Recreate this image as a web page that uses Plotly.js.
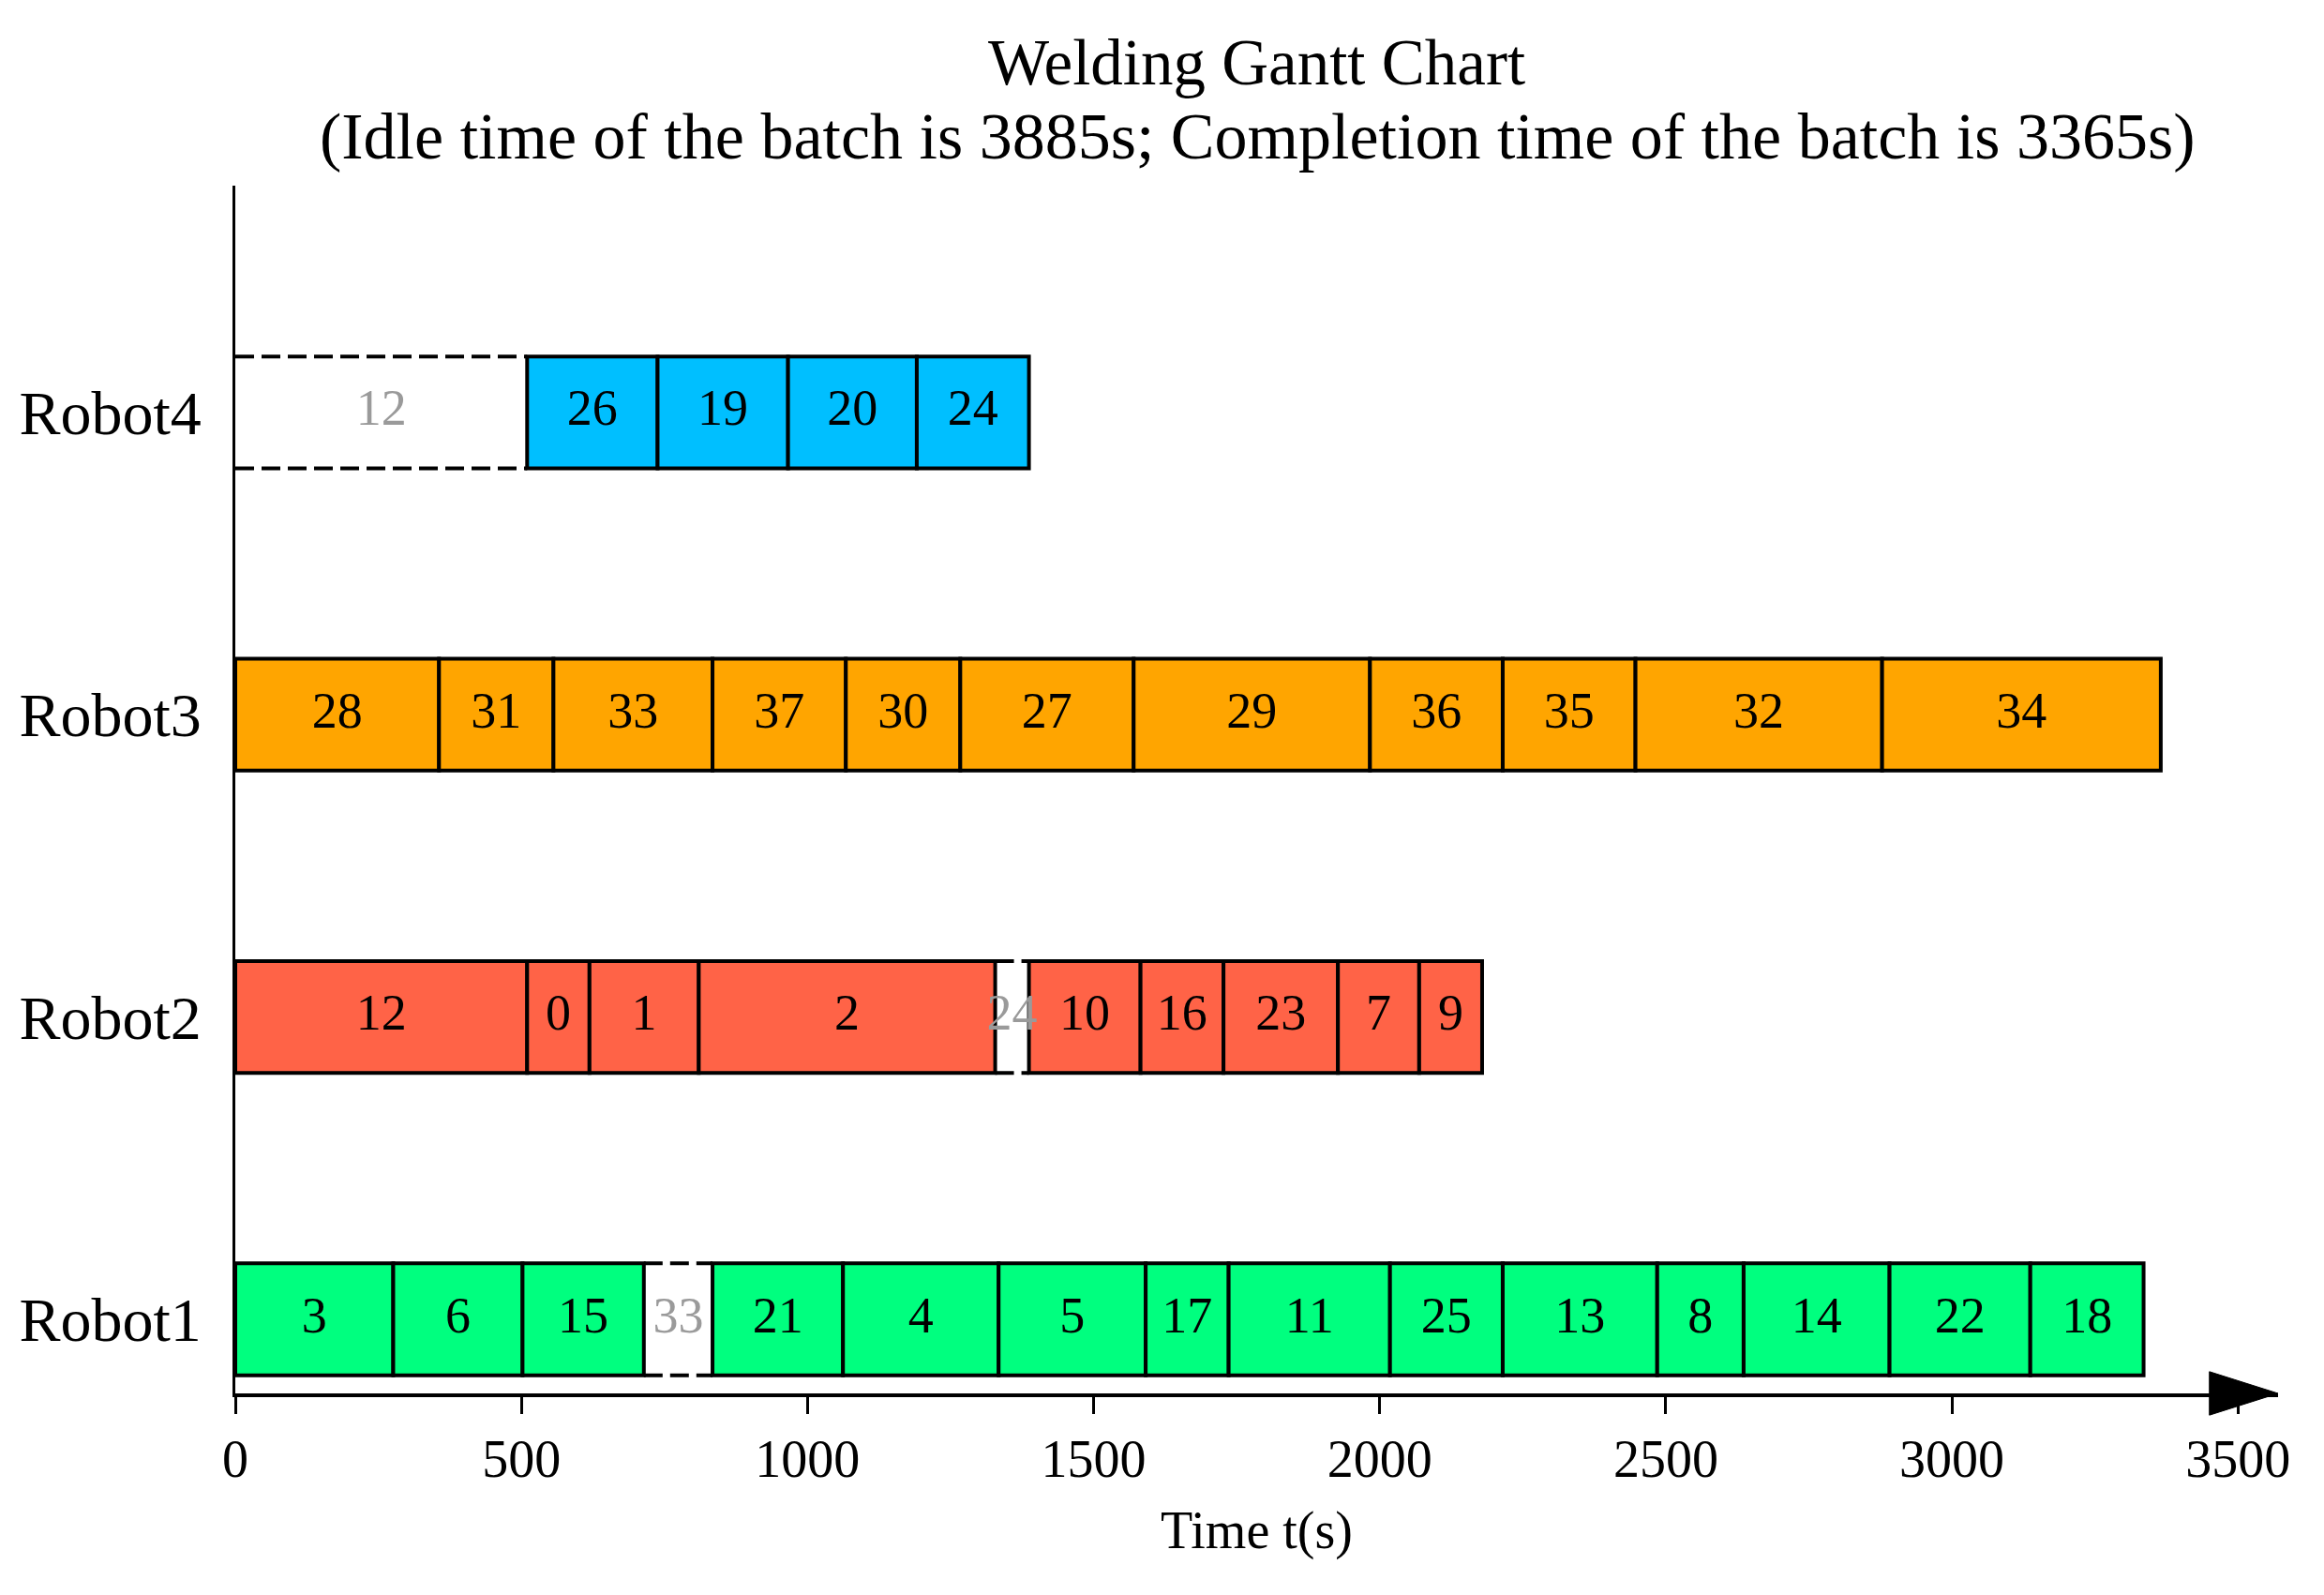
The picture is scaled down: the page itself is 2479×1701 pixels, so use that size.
<!DOCTYPE html>
<html>
<head>
<meta charset="utf-8">
<script src="https://cdn.plot.ly/plotly-3.0.1.min.js"></script>
<style>
  body { margin: 0; background: #ffffff; }
  #plot { width: 2479px; height: 1701px; }
</style>
</head>
<body>
<div id="plot"></div>
<script>
// Rows from bottom to top
const robots = ["Robot1", "Robot2", "Robot3", "Robot4"];
const robotColors = ["#00FF7F", "#FF6347", "#FFA500", "#00BFFF"];

// Robot1 schedule (idle = waiting for a job on another robot)
const r1Jobs  = ["3", "6", "15", "33", "21", "4", "5", "17", "11", "25", "13", "8", "14", "22", "18"];
const r1Start = [0, 276, 502, 714, 834, 1062, 1334, 1591, 1736, 2018, 2215, 2485, 2636, 2891, 3137];
const r1End   = [276, 502, 714, 834, 1062, 1334, 1591, 1736, 2018, 2215, 2485, 2636, 2891, 3137, 3335];
const r1Idle  = [0, 0, 0, 1, 0, 0, 0, 0, 0, 0, 0, 0, 0, 0, 0];

// Robot2 schedule
const r2Jobs  = ["12", "0", "1", "2", "24", "10", "16", "23", "7", "9"];
const r2Start = [0, 510, 619, 810, 1328, 1387, 1582, 1727, 1927, 2069];
const r2End   = [510, 619, 810, 1328, 1387, 1582, 1727, 1927, 2069, 2179];
const r2Idle  = [0, 0, 0, 0, 1, 0, 0, 0, 0, 0];

// Robot3 schedule
const r3Jobs  = ["28", "31", "33", "37", "30", "27", "29", "36", "35", "32", "34"];
const r3Start = [0, 356, 556, 834, 1067, 1267, 1570, 1983, 2215, 2447, 2878];
const r3End   = [356, 556, 834, 1067, 1267, 1570, 1983, 2215, 2447, 2878, 3365];
const r3Idle  = [0, 0, 0, 0, 0, 0, 0, 0, 0, 0, 0];

// Robot4 schedule
const r4Jobs  = ["12", "26", "19", "20", "24"];
const r4Start = [0, 510, 738, 966, 1191];
const r4End   = [510, 738, 966, 1191, 1387];
const r4Idle  = [1, 0, 0, 0, 0];

const xTicks = [0, 500, 1000, 1500, 2000, 2500, 3000, 3500];

const titleMain = "Welding Gantt Chart";
const titleSub = "(Idle time of the batch is 3885s; Completion time of the batch is 3365s)";

const FONT = "Liberation Serif, Times New Roman, serif";
const BAR_H = 0.37;
const X_MAX = 3570;

const schedules = [
  [r1Jobs, r1Start, r1End, r1Idle],
  [r2Jobs, r2Start, r2End, r2Idle],
  [r3Jobs, r3Start, r3End, r3Idle],
  [r4Jobs, r4Start, r4End, r4Idle],
];

const traces = [];

schedules.forEach(([jobs, start, end, idle], row) => {
  const base = [], dur = [], ys = [];
  const dashX = [], dashY = [];
  const workX = [], workY = [], workT = [];
  const idleX = [], idleY = [], idleT = [];

  jobs.forEach((job, k) => {
    const mid = (start[k] + end[k]) / 2;
    if (idle[k]) {
      // dashed top and bottom edges for waiting time
      dashX.push(start[k], end[k], null, start[k], end[k], null);
      dashY.push(row + BAR_H / 2, row + BAR_H / 2, null, row - BAR_H / 2, row - BAR_H / 2, null);
      idleX.push(mid); idleY.push(row); idleT.push(job);
    } else {
      base.push(start[k]);
      dur.push(end[k] - start[k]);
      ys.push(row);
      workX.push(mid); workY.push(row); workT.push(job);
    }
  });

  traces.push({
    type: "bar",
    orientation: "h",
    base: base,
    x: dur,
    y: ys,
    width: BAR_H,
    marker: { color: robotColors[row], line: { color: "#000000", width: 4 } },
    hoverinfo: "skip",
  });

  if (dashX.length) {
    traces.push({
      type: "scatter",
      mode: "lines",
      x: dashX,
      y: dashY,
      line: { color: "#000000", width: 4, dash: "20px,8px" },
      hoverinfo: "skip",
    });
  }

  traces.push({
    type: "scatter",
    mode: "text",
    x: workX,
    y: workY,
    text: workT,
    textposition: "middle center",
    textfont: { family: FONT, size: 54, color: "#000000" },
    hoverinfo: "skip",
  });

  if (idleX.length) {
    traces.push({
      type: "scatter",
      mode: "text",
      x: idleX,
      y: idleY,
      text: idleT,
      textposition: "middle center",
      textfont: { family: FONT, size: 54, color: "#9a9a9a" },
      hoverinfo: "skip",
    });
  }
});

const layout = {
  width: 2479,
  height: 1701,
  margin: { l: 251, r: 49, t: 198, b: 215 },
  showlegend: false,
  barmode: "overlay",
  plot_bgcolor: "#ffffff",
  paper_bgcolor: "#ffffff",
  font: { family: FONT, color: "#000000" },
  title: {
    text: titleMain,
    font: { family: FONT, size: 69, color: "#000000" },
    xref: "paper",
    x: 0.5,
    xanchor: "center",
    yref: "container",
    y: 1 - 66 / 1701,
    yanchor: "middle",
  },
  annotations: [
    {
      text: titleSub,
      xref: "paper",
      yref: "paper",
      x: 0.5,
      y: 1 + (198 - 145) / 1288,
      xanchor: "center",
      yanchor: "middle",
      showarrow: false,
      font: { family: FONT, size: 70, color: "#000000" },
    },
  ],
  xaxis: {
    range: [0, X_MAX],
    showgrid: false,
    zeroline: false,
    showline: true,
    linecolor: "#000000",
    linewidth: 4,
    ticks: "outside",
    ticklen: 18,
    tickwidth: 3,
    tickcolor: "#000000",
    tickvals: xTicks,
    ticktext: xTicks.map(String),
    tickfont: { family: FONT, size: 56, color: "#000000" },
    title: { text: "Time t(s)", font: { family: FONT, size: 56, color: "#000000" }, standoff: 27 },
  },
  yaxis: {
    range: [-0.245, 3.75],
    showgrid: false,
    zeroline: false,
    showline: true,
    linecolor: "#000000",
    linewidth: 3,
    ticks: "",
    tickvals: [0, 1, 2, 3],
    ticktext: robots,
    tickfont: { family: FONT, size: 66, color: "#000000" },
    ticklabelstandoff: 20,
  },
  shapes: [
    {
      // arrow head at the end of the time axis
      type: "path",
      xref: "x",
      yref: "paper",
      path: `M ${X_MAX - 120},0.018 L ${X_MAX},0 L ${X_MAX - 120},-0.018 Z`,
      fillcolor: "#000000",
      line: { color: "#000000", width: 1 },
      layer: "above",
    },
  ],
};

Plotly.newPlot("plot", traces, layout, { displayModeBar: false, staticPlot: true });
</script>
</body>
</html>
